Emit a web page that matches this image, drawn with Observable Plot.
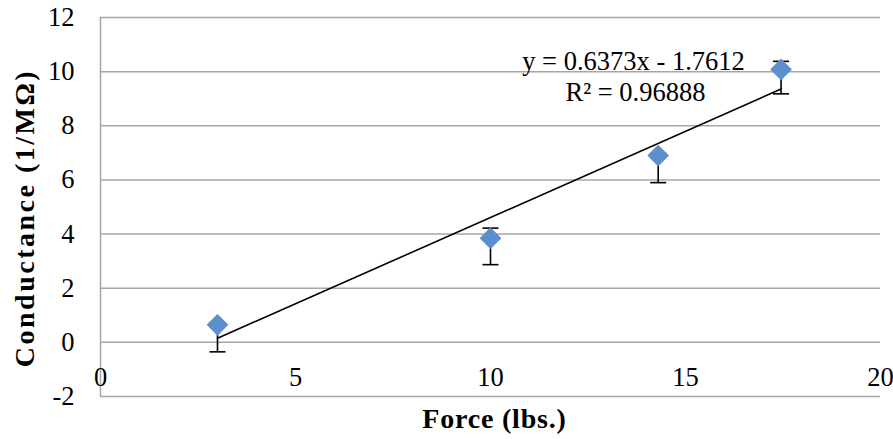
<!DOCTYPE html>
<html>
<head>
<meta charset="utf-8">
<script src="https://cdn.jsdelivr.net/npm/d3@7"></script>
<script src="https://cdn.jsdelivr.net/npm/@observablehq/plot@0.6"></script>
<style>
  html, body { margin: 0; padding: 0; background: #fff; }
  #chart svg { display: block; }
</style>
</head>
<body>
<div id="chart"></div>
<script>
// Data
const force = [3, 10, 14.3, 17.45];                 // lbs.
const conductance = [0.65, 3.85, 6.9, 10.08];       // 1/MΩ
const errLow = [-0.35, 2.87, 5.9, 9.18];
const errHigh = [0.7, 4.22, 6.95, 10.38];
const slope = 0.6373;
const intercept = -1.7612;
const rSquared = "0.96888";
const xTicks = [0, 5, 10, 15, 20];
const yTicks = [-2, 0, 2, 4, 6, 8, 10, 12];

const points = force.map((f, i) => ({x: f, y: conductance[i], lo: errLow[i], hi: errHigh[i]}));
const trendX = [d3.min(force), d3.max(force)];
const trend = trendX.map(x => ({x, y: slope * x + intercept}));

const capSymbol = {
  draw(context, size) {
    const r = Math.sqrt(size / Math.PI);
    context.moveTo(-r, 0);
    context.lineTo(r, 0);
  }
};

const serif = "'Liberation Serif', 'Times New Roman', serif";

const chart = Plot.plot({
  width: 893,
  height: 439,
  marginLeft: 100,
  marginRight: 13,
  marginTop: 17,
  marginBottom: 43,
  x: {domain: [0, 20], axis: null},
  y: {domain: [-2, 12], axis: null},
  style: {fontFamily: serif, background: "#fff"},
  marks: [
    // horizontal gridlines
    Plot.ruleY(yTicks, {stroke: "#a6a6a6", strokeWidth: 1.5}),
    // vertical axis line
    Plot.ruleX([0], {stroke: "#a6a6a6", strokeWidth: 1.5}),
    // y tick labels
    Plot.text(yTicks, {x: 0, y: d => d, text: d => String(d), textAnchor: "end", dx: -26, fontSize: 26.5, fill: "#000"}),
    // x tick labels (Excel draws them above the bottom line)
    Plot.text(xTicks, {x: d => d, y: -2, text: d => String(d), dy: -19, fontSize: 26.5, fill: "#000"}),
    // trendline
    Plot.line(trend, {x: "x", y: "y", stroke: "#000", strokeWidth: 1.6}),
    // error bars
    Plot.link(points, {x1: "x", x2: "x", y1: "lo", y2: "hi", stroke: "#000", strokeWidth: 1.6}),
    Plot.dot(points, {x: "x", y: "lo", symbol: capSymbol, r: 8, stroke: "#000", strokeWidth: 1.6, fill: "none"}),
    Plot.dot(points, {x: "x", y: "hi", symbol: capSymbol, r: 8, stroke: "#000", strokeWidth: 1.6, fill: "none"}),
    // markers
    Plot.dot(points, {x: "x", y: "y", symbol: "diamond2", r: 9.8, fill: "#5b8fcd", stroke: "none"}),
    // equation
    Plot.text([`y = ${slope}x - ${Math.abs(intercept)}`], {frameAnchor: "top-left", dx: 533, dy: 44, fontSize: 26.5, fill: "#000", textAnchor: "middle", lineAnchor: "middle"}),
    Plot.text([`R² = ${rSquared}`], {frameAnchor: "top-left", dx: 535, dy: 75, fontSize: 26.5, fill: "#000", textAnchor: "middle", lineAnchor: "middle"}),
    // axis titles
    Plot.text(["Force (lbs.)"], {className: "xtitle", frameAnchor: "bottom", dx: 4, dy: 23, fontSize: 28, fontWeight: "bold", fill: "#000", textAnchor: "middle", lineAnchor: "middle"}),
    Plot.text(["Conductance (1/MΩ)"], {className: "ytitle", frameAnchor: "left", dx: -75, dy: 11, rotate: -90, fontSize: 28, fontWeight: "bold", fill: "#000", textAnchor: "middle", lineAnchor: "middle"})
  ]
});

chart.querySelectorAll(".xtitle text").forEach(t => t.style.letterSpacing = "0.8px");
chart.querySelectorAll(".ytitle text").forEach(t => t.style.letterSpacing = "2.5px");

document.getElementById("chart").append(chart);
</script>
</body>
</html>
